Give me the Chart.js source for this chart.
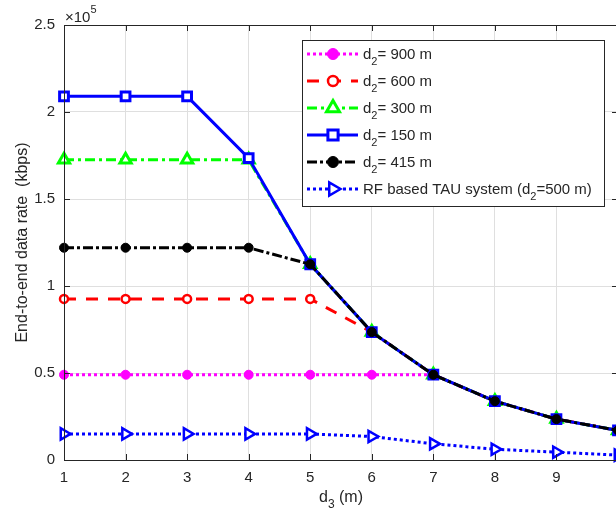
<!DOCTYPE html>
<html>
<head>
<meta charset="utf-8">
<script src="https://cdn.jsdelivr.net/npm/chart.js@4.4.1/dist/chart.umd.min.js"></script>
<style>
  html, body { margin: 0; padding: 0; background: #fff; overflow: hidden; }
  #wrap { width: 620px; height: 520px; }
</style>
</head>
<body>
<div id="wrap"><canvas id="rateChart" width="620" height="520"></canvas></div>
<script>
// d3 distance (m) on the x axis
const d3Values = [1, 2, 3, 4, 5, 6, 7, 8, 9, 10];

// end-to-end data rate (kbps) per d2 case
const rate900 = [49000, 49000, 49000, 49000, 49000, 49000, 49000, 33800, 23500, 17000];
const rate600 = [92600, 92600, 92600, 92600, 92600, 73500, 49000, 33800, 23500, 17000];
const rate300 = [172500, 172500, 172500, 172500, 112500, 73500, 49000, 33800, 23500, 17000];
const rate150 = [209000, 209000, 209000, 173500, 112500, 73500, 49000, 33800, 23500, 17000];
const rate415 = [122000, 122000, 122000, 122000, 112500, 73500, 49000, 33800, 23500, 17000];
const rateRF  = [15000, 15000, 15000, 15000, 15000, 13500, 9300, 6200, 4500, 2800];

const legendLabels = ['900 m', '600 m', '300 m', '150 m', '415 m', 'RF'];

const textColor = '#262626';
const fontFamily = '"Liberation Sans", Arial, Helvetica, sans-serif';

function makeSeries(values, style) {
  return Object.assign({
    data: values.map((v, i) => ({ x: d3Values[i], y: v })),
    borderWidth: 3,
    pointBorderWidth: 2.5,
    borderCapStyle: 'butt',
    tension: 0,
    fill: false,
    clip: false
  }, style);
}

const seriesStyles = [
  { borderColor: '#ff00ff', borderDash: [3, 3], pointStyle: 'circle', pointRadius: 4.5,
    pointBackgroundColor: '#ff00ff', pointBorderColor: '#ff00ff', pointBorderWidth: 1 },
  { borderColor: '#ff0000', borderDash: [12, 10], pointStyle: 'circle', pointRadius: 4,
    pointBackgroundColor: '#ffffff', pointBorderColor: '#ff0000', pointBorderWidth: 2.5 },
  { borderColor: '#00ff00', borderDash: [10, 4, 3, 4], pointStyle: 'triangle', pointRadius: 6.5,
    pointBackgroundColor: '#ffffff', pointBorderColor: '#00ff00', pointBorderWidth: 3 },
  { borderColor: '#0000ff', borderDash: [], pointStyle: 'rect', pointRadius: 6.2,
    pointBackgroundColor: '#ffffff', pointBorderColor: '#0000ff', pointBorderWidth: 3 },
  { borderColor: '#000000', borderDash: [10, 3, 3, 3], pointStyle: 'circle', pointRadius: 4.5,
    pointBackgroundColor: '#000000', pointBorderColor: '#000000', pointBorderWidth: 1 },
  { borderColor: '#0000ff', borderDash: [3, 3], pointStyle: 'triangle', pointRotation: 90, pointRadius: 6.5,
    pointBackgroundColor: '#ffffff', pointBorderColor: '#0000ff', pointBorderWidth: 2.5 }
];

const seriesValues = [rate900, rate600, rate300, rate150, rate415, rateRF];
const datasets = seriesValues.map((vals, i) =>
  makeSeries(vals, Object.assign({ label: legendLabels[i], order: 10 - i }, seriesStyles[i])));

// text with a sub/superscript piece, drawn left to right
function drawRich(ctx, parts, x, y) {
  parts.forEach(p => {
    ctx.font = p.size + 'px ' + fontFamily;
    ctx.fillText(p.t, x, y + (p.dy || 0));
    x += ctx.measureText(p.t).width;
  });
  return x;
}
function richWidth(ctx, parts) {
  let w = 0;
  parts.forEach(p => { ctx.font = p.size + 'px ' + fontFamily; w += ctx.measureText(p.t).width; });
  return w;
}

const decorations = {
  id: 'decorations',
  afterDraw(chart) {
    const ctx = chart.ctx;
    const a = chart.chartArea;
    const xs = chart.scales.x, ys = chart.scales.y;
    ctx.save();

    // axes box
    ctx.strokeStyle = textColor;
    ctx.lineWidth = 1;
    ctx.setLineDash([]);
    ctx.strokeRect(a.left + 0.5, a.top + 0.5, a.right - a.left, a.bottom - a.top);

    // inward tick marks
    ctx.beginPath();
    xs.ticks.forEach(t => {
      const px = Math.round(xs.getPixelForValue(t.value)) + 0.5;
      ctx.moveTo(px, a.bottom); ctx.lineTo(px, a.bottom - 6);
      ctx.moveTo(px, a.top); ctx.lineTo(px, a.top + 6);
    });
    ys.ticks.forEach(t => {
      const py = Math.round(ys.getPixelForValue(t.value)) + 0.5;
      ctx.moveTo(a.left, py); ctx.lineTo(a.left + 6, py);
      ctx.moveTo(a.right, py); ctx.lineTo(a.right - 6, py);
    });
    ctx.stroke();

    ctx.fillStyle = textColor;
    ctx.textBaseline = 'alphabetic';
    ctx.textAlign = 'left';

    // exponent label
    drawRich(ctx, [{ t: '\u00d710', size: 15 }, { t: '5', size: 11, dy: -9 }], 65, 22);

    // x axis title
    const xParts = [{ t: 'd', size: 16 }, { t: '3', size: 12, dy: 6 }, { t: ' (m)', size: 16 }];
    const xw = richWidth(ctx, xParts);
    drawRich(ctx, xParts, (a.left + a.right) / 2 - xw / 2, 502);

    // y axis title
    ctx.save();
    ctx.translate(27, (a.top + a.bottom) / 2);
    ctx.rotate(-Math.PI / 2);
    ctx.font = '16px ' + fontFamily;
    ctx.textAlign = 'center';
    ctx.fillText('End-to-end data rate  (kbps)', 0, 0);
    ctx.restore();

    // legend box
    const lx = 302, ly = 40, lw = 302, lh = 166;
    ctx.fillStyle = '#ffffff';
    ctx.fillRect(lx, ly, lw, lh);
    ctx.strokeStyle = '#262626';
    ctx.lineWidth = 1;
    ctx.strokeRect(lx + 0.5, ly + 0.5, lw, lh);

    chart.data.datasets.forEach((ds, i) => {
      const cy = 54 + i * 27;
      ctx.strokeStyle = ds.borderColor;
      ctx.lineWidth = ds.borderWidth;
      ctx.lineCap = 'butt';
      ctx.setLineDash(ds.borderDash || []);
      ctx.beginPath();
      ctx.moveTo(307, cy); ctx.lineTo(358, cy);
      ctx.stroke();
      ctx.setLineDash([]);
      ctx.fillStyle = ds.pointBackgroundColor;
      ctx.strokeStyle = ds.pointBorderColor;
      ctx.lineWidth = ds.pointBorderWidth;
      Chart.helpers.drawPoint(ctx, {
        pointStyle: ds.pointStyle, radius: ds.pointRadius + 1,
        rotation: ds.pointRotation || 0, borderWidth: ds.pointBorderWidth
      }, 333, cy);

      ctx.fillStyle = textColor;
      let parts;
      if (ds.label === 'RF') {
        parts = [{ t: 'RF based TAU system (d', size: 15 }, { t: '2', size: 11, dy: 6 }, { t: '=500 m)', size: 15 }];
      } else {
        parts = [{ t: 'd', size: 15 }, { t: '2', size: 11, dy: 6 }, { t: '= ' + ds.label, size: 15 }];
      }
      drawRich(ctx, parts, 363, cy + 5);
    });

    ctx.restore();
  }
};

new Chart(document.getElementById('rateChart'), {
  type: 'line',
  data: { datasets },
  options: {
    responsive: false,
    devicePixelRatio: 1,
    animation: false,
    layout: { autoPadding: false, padding: { left: 0, right: 2, top: 25, bottom: 0 } },
    plugins: { legend: { display: false }, tooltip: { enabled: false } },
    scales: {
      x: {
        type: 'linear',
        min: 1, max: 10,
        afterFit(scale) { scale.height = 60; scale.paddingRight = 0; scale.paddingLeft = 0; },
        border: { display: false },
        grid: { color: '#dfdfdf', lineWidth: 1, drawTicks: false },
        ticks: {
          stepSize: 1, padding: 9, color: textColor,
          font: { family: fontFamily, size: 15 },
          callback: v => (v === 10 ? '' : String(v))
        }
      },
      y: {
        min: 0, max: 250000,
        afterFit(scale) { scale.width = 64; scale.paddingTop = 0; scale.paddingBottom = 0; },
        border: { display: false },
        grid: { color: '#dfdfdf', lineWidth: 1, drawTicks: false },
        ticks: {
          stepSize: 50000, padding: 9, color: textColor,
          font: { family: fontFamily, size: 15 },
          callback: v => String(v / 100000)
        }
      }
    }
  },
  plugins: [decorations]
});
</script>
</body>
</html>
